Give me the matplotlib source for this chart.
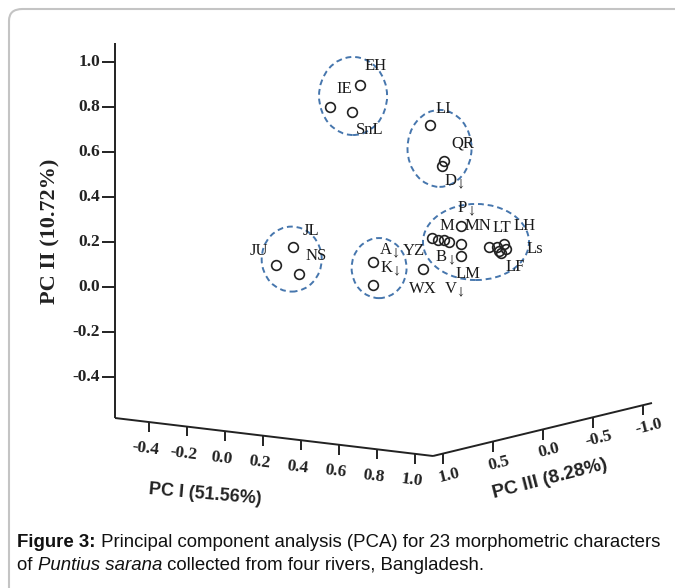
import matplotlib.pyplot as plt
import numpy as np
from matplotlib.patches import Ellipse, FancyBboxPatch

plt.rcParams['mathtext.fontset'] = 'stix'

# points: horizontal position (read against the PC I scale) and PC II
pt_h = [0.71, 0.55, 0.67, 1.08, 1.15, 1.14, 0.36, 0.27, 0.39, 0.78, 0.78, 1.04,
        1.09, 1.12, 1.15, 1.18, 1.24, 1.24, 1.24, 1.39, 1.43, 1.47, 1.44, 1.48, 1.45]
pt_pc2 = [0.90, 0.80, 0.78, 0.72, 0.56, 0.54, 0.18, 0.10, 0.06, 0.11, 0.01, 0.08,
          0.22, 0.21, 0.21, 0.20, 0.19, 0.14, 0.27, 0.18, 0.18, 0.19, 0.16, 0.17, 0.15]

# character labels
lab_text = ['EH', 'IE', 'SnL', 'LI', 'QR', r'D$_\downarrow$', 'JL', 'JU', 'NS',
            r'A$_\downarrow$', r'K$_\downarrow$', 'YZ', 'WX', r'V$_\downarrow$',
            r'P$_\downarrow$', 'M', 'MN', 'LT', 'LH', 'Ls', 'LF', r'B$_\downarrow$', 'LM']
lab_h = [0.79, 0.63, 0.76, 1.15, 1.25, 1.21, 0.45, 0.18, 0.48, 0.865, 0.87, 0.995,
         1.04, 1.21, 1.27, 1.17, 1.33, 1.455, 1.575, 1.63, 1.53, 1.16, 1.28]
lab_pc2 = [0.98, 0.88, 0.70, 0.79, 0.64, 0.47, 0.25, 0.16, 0.14, 0.16, 0.08, 0.16,
           -0.01, -0.01, 0.35, 0.27, 0.27, 0.26, 0.27, 0.17, 0.09, 0.13, 0.06]

# dashed cluster outlines
cl_h = [0.674, 1.129, 0.351, 0.811, 1.321]
cl_pc2 = [0.849, 0.616, 0.124, 0.084, 0.200]
cl_w = [0.358, 0.337, 0.316, 0.289, 0.558]
cl_ht = [0.347, 0.342, 0.289, 0.267, 0.338]

pc2_ticks = [1.0, 0.8, 0.6, 0.4, 0.2, 0.0, -0.2, -0.4]
pc1_ticks = [-0.4, -0.2, 0.0, 0.2, 0.4, 0.6, 0.8, 1.0]
pc3_ticks = [1.0, 0.5, 0.0, -0.5, -1.0]

W, H = 675, 588
X0, XS, Y0, YS = 225, 190, 287, 225


def to_data(px, py):
    return (px - X0) / XS, (Y0 - py) / YS


def pc1_px(t):
    return 225 + 190 * t, 431 + 22.8 * t


def pc3_px(s):
    return 543 - 100 * s, 429.8 + 24.5 * s


fig = plt.figure(figsize=(W / 100, H / 100), dpi=100)
ax = fig.add_axes([0, 0, 1, 1])
ax.set_xlim(-X0 / XS, (W - X0) / XS)
ax.set_ylim((Y0 - H) / YS, Y0 / YS)
ax.axis('off')

# rounded frame
fig.patches.append(FancyBboxPatch((9 / W, -0.05), 1.05, 1 - 9 / H + 0.05,
                                  boxstyle='round,pad=0,rounding_size=0.02',
                                  transform=fig.transFigure, fc='none',
                                  ec='#c4c4c4', lw=1.5))

serif = 'Liberation Serif'
sans = 'Liberation Sans'
lc = '#222222'


def line_px(p, q, **kw):
    a = to_data(*p)
    b = to_data(*q)
    ax.plot([a[0], b[0]], [a[1], b[1]], color=lc, lw=1.4, solid_capstyle='butt', **kw)


# PC II axis
line_px((115, 43), (115, 418))
for v in pc2_ticks:
    py = Y0 - v * YS
    line_px((102, py), (115, py))
    x, y = to_data(100, py)
    ax.text(x, y, f'{v:.1f}', ha='right', va='center', family=serif,
            fontweight='bold', fontsize=12.5, color=lc)

# PC I axis
line_px((115, 418), (433, 456))
for t in pc1_ticks:
    px, py = pc1_px(t)
    line_px((px, py), (px, py + 10))
    x, y = to_data(px - 3, py + 27)
    ax.text(x, y, f'{t:.1f}', ha='center', va='center', rotation=-7,
            family=serif, fontweight='bold', fontsize=12.5, color=lc)

# PC III axis
line_px((433, 456), (652, 403))
for s in pc3_ticks:
    px, py = pc3_px(s)
    line_px((px, py), (px, py + 10))
    x, y = to_data(px + 6, py + 21)
    ax.text(x, y, f'{s:.1f}', ha='center', va='center', rotation=14,
            family=serif, fontweight='bold', fontsize=12.5, color=lc)

# axis titles
x, y = to_data(50, 231)
ax.text(x, y, 'PC II (10.72%)', rotation=90, ha='center', va='center',
        family=serif, fontweight='bold', fontsize=16, color=lc)
x, y = to_data(205, 494)
ax.text(x, y, 'PC I (51.56%)', rotation=-5, ha='center', va='center',
        family=sans, fontweight='bold', fontsize=13, color=lc)
x, y = to_data(550, 479)
ax.text(x, y, 'PC III (8.28%)', rotation=14.5, ha='center', va='center',
        family=sans, fontweight='bold', fontsize=13.5, color=lc)

# clusters
for h, v, w, ht in zip(cl_h, cl_pc2, cl_w, cl_ht):
    ax.add_patch(Ellipse((h, v), w, ht, fc='none', ec='#4676ad', lw=1.4,
                         ls=(0, (3, 2))))

# points and labels
ax.plot(pt_h, pt_pc2, 'o', ms=7, mfc='none', mec=lc, mew=1.2)
for s, h, v in zip(lab_text, lab_h, lab_pc2):
    ax.text(h, v, s, ha='center', va='center', family=serif, fontsize=12,
            color='#1a1a1a')

# caption
renderer = fig.canvas.get_renderer()


def caption_line(y_px, pieces):
    x_px = 17
    for s, kw in pieces:
        t = fig.text(x_px / W, 1 - y_px / H, s, fontsize=13.4, family=sans,
                     va='baseline', color='#111111', **kw)
        x_px += t.get_window_extent(renderer).width


caption_line(547, [('Figure 3:', {'fontweight': 'bold'}),
                   (' Principal component analysis (PCA) for 23 morphometric characters', {})])
caption_line(570, [('of ', {}), ('Puntius sarana', {'style': 'italic'}),
                   (' collected from four rivers, Bangladesh.', {})])

fig.savefig('out.png', dpi=100)
